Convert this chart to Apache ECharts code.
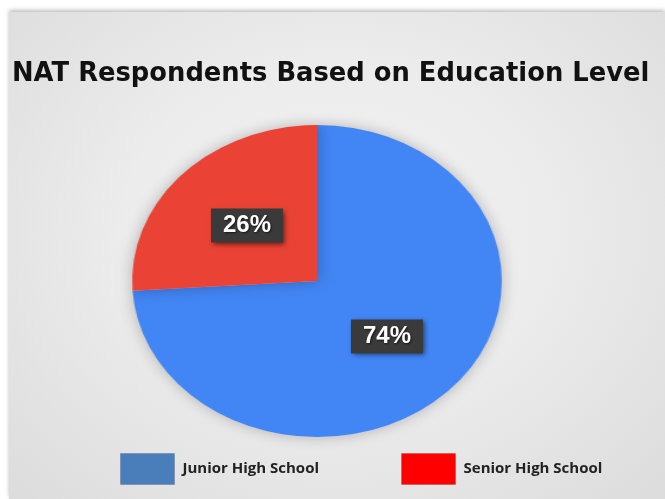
<!DOCTYPE html>
<html>
<head>
<meta charset="utf-8">
<script src="https://cdn.jsdelivr.net/npm/echarts@6/dist/echarts.min.js"></script>
<style>
  html, body { margin: 0; padding: 0; background: #fff; }
  #wrap { position: relative; width: 665px; height: 499px; overflow: hidden; background: #fff; }
  #bg {
    position: absolute; left: 9px; top: 12px; right: 0; bottom: 0;
    background: radial-gradient(ellipse at 50% 45%, #f3f3f3 0%, #ececec 45%, #dcdcdc 100%);
    box-shadow: 0 -2px 4px rgba(0,0,0,0.25);
  }
  #pieChart, #mainChart { position: absolute; left: 0; top: 0; width: 665px; height: 499px; }
  /* the reference pie is an ellipse, so only the slice layer gets stretched */
  #pieChart { transform: scaleX(1.185); transform-origin: 317px 281px; }
</style>
</head>
<body>
<div id="wrap">
  <div id="bg"></div>
  <div id="pieChart"></div>
  <div id="mainChart"></div>
</div>
<script>
const titleText = 'NAT Respondents Based on Education Level'
const categories = ['Junior High School', 'Senior High School']
const values = [74, 26]
const sliceColors = ['#4285f4', '#ea4335']
const legendColors = ['#4a7ebb', '#ff0000']

const CENTER = [317, 281]
const RADIUS = 156
const STRETCH = 1.185

// slices only (stretched by css)
const pieChart = echarts.init(document.getElementById('pieChart'))
pieChart.setOption({
  animation: false,
  series: [
    {
      type: 'pie',
      center: CENTER,
      radius: RADIUS,
      startAngle: 90,
      clockwise: true,
      silent: true,
      label: { show: false },
      labelLine: { show: false },
      itemStyle: {
        shadowBlur: 14,
        shadowColor: 'rgba(0,0,0,0.25)'
      },
      data: categories.map((name, i) => ({
        name: name,
        value: values[i],
        itemStyle: { color: sliceColors[i] }
      }))
    }
  ]
})

// title, legend and the percentage labels (slices here are invisible)
const mainChart = echarts.init(document.getElementById('mainChart'))
mainChart.setOption({
  animation: false,
  title: {
    text: titleText,
    left: 7,
    top: 56,
    textStyle: {
      fontFamily: 'DejaVu Sans',
      fontWeight: 'bold',
      fontSize: 25.8,
      color: '#111'
    }
  },
  legend: {
    left: 115,
    top: 448,
    itemWidth: 54,
    itemHeight: 31,
    itemGap: 82,
    icon: 'rect',
    textStyle: {
      fontFamily: 'Open Sans',
      fontWeight: 'bold',
      fontSize: 15,
      color: '#222',
      padding: [0, 0, 0, 3]
    },
    data: categories.map((name, i) => ({
      name: name,
      itemStyle: {
        color: legendColors[i],
        borderColor: 'rgba(0,0,0,0.15)',
        borderWidth: 1
      }
    }))
  },
  series: [
    {
      type: 'pie',
      center: CENTER,
      radius: RADIUS,
      startAngle: 90,
      clockwise: true,
      silent: true,
      itemStyle: { color: 'rgba(0,0,0,0)' },
      label: {
        show: true,
        position: 'inside',
        formatter: '{d}%',
        fontFamily: 'Liberation Sans',
        fontWeight: 'bold',
        fontSize: 24,
        lineHeight: 26,
        color: '#fff',
        backgroundColor: '#3a3a3a',
        padding: [4, 12],
        shadowBlur: 5,
        shadowColor: 'rgba(0,0,0,0.55)',
        shadowOffsetX: 2,
        shadowOffsetY: 2,
        textShadowBlur: 2,
        textShadowColor: 'rgba(0,0,0,0.6)',
        textShadowOffsetX: 1,
        textShadowOffsetY: 1
      },
      labelLine: { show: false },
      labelLayout: function (params) {
        const r = params.labelRect
        const lx = r.x + r.width / 2
        return { dx: (lx - CENTER[0]) * (STRETCH - 1) }
      },
      data: categories.map((name, i) => ({ name: name, value: values[i] }))
    }
  ]
})

window.addEventListener('resize', function () {
  pieChart.resize()
  mainChart.resize()
})
</script>
</body>
</html>
